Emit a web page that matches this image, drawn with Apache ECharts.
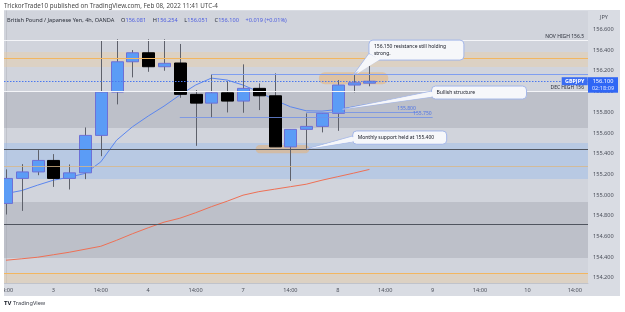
<!DOCTYPE html>
<html><head><meta charset="utf-8">
<script src="https://cdn.jsdelivr.net/npm/echarts@6/dist/echarts.min.js"></script>
<style>html,body{margin:0;padding:0;background:#fff}#c{width:625px;height:312px}</style>
</head><body><div id="c"></div>
<script>
// ---- data (GBPJPY 4h candles) ----
const opens  = [154.918,155.160,155.223,155.334,155.160,155.214,155.576,155.995,156.288,156.375,156.240,156.276,155.973,155.888,155.988,155.908,156.031,155.959,155.465,155.634,155.663,155.789,156.063,156.081];
const closes = [155.160,155.223,155.334,155.160,155.214,155.576,155.995,156.288,156.375,156.240,156.273,155.973,155.888,155.988,155.908,156.031,155.959,155.465,155.634,155.663,155.789,156.063,156.085,156.100];
const lows   = [154.811,154.846,155.191,155.078,155.053,155.153,155.375,155.876,156.137,156.191,156.201,155.940,155.475,155.750,155.798,155.795,155.821,155.465,155.136,155.434,155.605,155.620,155.992,156.051];
const highs  = [155.247,155.298,155.434,155.395,155.295,155.653,156.498,156.505,156.401,156.505,156.505,156.460,156.014,156.166,156.101,156.263,156.079,156.176,155.634,155.789,155.789,156.111,156.166,156.254];
const maFast = [155.014,155.043,155.095,155.143,155.172,155.208,155.320,155.530,155.659,155.763,155.859,155.966,156.063,156.130,156.111,156.063,155.998,155.918,155.853,155.814,155.811,155.827,155.853,155.879];
const maSlow = [154.369,154.383,154.398,154.422,154.446,154.475,154.504,154.562,154.625,154.683,154.737,154.775,154.828,154.887,154.940,154.998,155.032,155.056,155.080,155.104,155.143,155.177,155.211,155.247];
const timeTickIdx = [0,3,6,9,12,15,18,21,24,27,30,33,36];
const timeLabels  = ['14:00','3','14:00','4','14:00','7','14:00','8','14:00','9','14:00','10','14:00'];
const priceTicks  = [154.2,154.4,154.6,154.8,155.0,155.2,155.4,155.6,155.8,156.0,156.2,156.4,156.6];
const lastPrice = 156.100;
// zones: [top, bottom]
const orangeZones = [[156.382,156.237],[154.245,154.149]];
const grayZones   = [[156.000,155.648],[154.932,154.390]];
const blueZones   = [[155.502,155.154]];
// horizontal levels
const novHigh = 156.5, decHigh = 156.0;
const orangeLevels = [156.324,154.240];
const darkLevels = [155.441,154.719];
const thinOrangeLevels = [155.275];
const resistance = 156.167;
const struct1 = 155.800, struct2 = 155.750;

const X_MIN = -0.127, X_MAX = 36.835, Y_MIN = 154.1488, Y_MAX = 156.7789;
const FONT = "'Noto Sans','Liberation Sans',sans-serif";

const chart = echarts.init(document.getElementById('c'), null, {renderer:'canvas', width:625, height:312});

const ohlc = opens.map((o,i)=>[i,o,closes[i],lows[i],highs[i]]);

const zoneData = [];
orangeZones.forEach(z=>zoneData.push([{yAxis:z[0],itemStyle:{color:'rgba(236,205,160,0.42)'}},{yAxis:z[1]}]));
grayZones.forEach(z=>zoneData.push([{yAxis:z[0],itemStyle:{color:'rgba(150,153,163,0.33)'}},{yAxis:z[1]}]));
blueZones.forEach(z=>zoneData.push([{yAxis:z[0],itemStyle:{color:'rgba(150,185,235,0.42)'}},{yAxis:z[1]}]));

const lbl = (txt,color)=>({show:true,position:'insideEndTop',formatter:txt,color:color,fontSize:5,fontFamily:FONT,distance:[4,1]});
const lineData = [
  {yAxis:novHigh,lineStyle:{color:'#f4f5f8',width:1.2,type:'solid'},label:lbl('NOV HIGH 156.5','#2a2e39')},
  {yAxis:decHigh,lineStyle:{color:'#f4f5f8',width:1.2,type:'solid'},label:lbl('DEC HIGH 156','#2a2e39')},
  ...orangeLevels.map(v=>({yAxis:v,lineStyle:{color:'#f2b660',width:1,type:'solid'}})),
  ...darkLevels.map(v=>({yAxis:v,lineStyle:{color:'#50555f',width:1.2,type:'solid'}})),
  ...thinOrangeLevels.map(v=>({yAxis:v,lineStyle:{color:'#d8b888',width:0.8,type:'solid'}})),
  {yAxis:lastPrice,lineStyle:{color:'#4a78f0',width:1,type:[1.5,1.5]}},
  [{coord:[13,resistance],lineStyle:{color:'#7f9ef0',width:1,type:'solid'}},{coord:[X_MAX,resistance]}],
  [{coord:[19,struct1],lineStyle:{color:'#6f8fe8',width:0.8,type:'solid'},label:{show:true,position:'insideEndTop',formatter:'155.800',color:'#4f74e6',fontSize:5,fontFamily:FONT,distance:[1,1]}},{coord:[26.0,struct1]}],
  [{coord:[11,struct2],lineStyle:{color:'#6f8fe8',width:0.8,type:'solid'},label:{show:true,position:'insideEndTop',formatter:'155.750',color:'#4f74e6',fontSize:5,fontFamily:FONT,distance:[1,1]}},{coord:[27.0,struct2]}]
];

function renderCandle(params, api){
  const i=api.value(0), o=api.value(1), c=api.value(2), l=api.value(3), h=api.value(4);
  const pO=api.coord([i,o]), pC=api.coord([i,c]), pL=api.coord([i,l]), pH=api.coord([i,h]);
  const w=12, xc=Math.round(pO[0]);
  const up=c>=o;
  const top=Math.min(pO[1],pC[1]), bot=Math.max(pO[1],pC[1]);
  const cs=params.coordSys;
  return {type:'group', clipPath:{type:'rect',shape:{x:cs.x,y:cs.y,width:cs.width,height:cs.height}}, children:[
    {type:'line',shape:{x1:xc+0.5,y1:pH[1],x2:xc+0.5,y2:pL[1]},style:{stroke:'#5e616b',lineWidth:1}},
    {type:'rect',shape:{x:xc-w/2+0.5,y:top,width:w,height:Math.max(bot-top,1.5)},
      style:{fill:up?'#5b9cf6':'#000000',stroke:up?'#6d70d6':'#000000',lineWidth:1}}
  ]};
}

chart.setOption({
  animation:false,
  backgroundColor:'#ffffff',
  grid:{left:4,right:37,top:11,bottom:29,show:true,backgroundColor:'#d1d4dc',borderWidth:0,outerBoundsMode:'none',containLabel:false},
  xAxis:{type:'value',min:X_MIN,max:X_MAX,
    axisLine:{show:true,lineStyle:{color:'#c0c3cb'}},axisTick:{show:false},splitLine:{show:false},
    axisLabel:{customValues:timeTickIdx,formatter:v=>timeLabels[timeTickIdx.indexOf(Math.round(v))],color:'#4a4e59',fontSize:5.6,fontFamily:FONT,margin:4}},
  yAxis:{type:'value',position:'right',min:Y_MIN,max:Y_MAX,scale:true,
    axisLine:{show:true,lineStyle:{color:'#c0c3cb'}},axisTick:{show:false},splitLine:{show:false},
    axisLabel:{customValues:priceTicks,formatter:v=>v.toFixed(3),color:'#4a4e59',fontSize:5.6,fontFamily:FONT,margin:5}},
  series:[
    {name:'zones',type:'line',data:[],silent:true,
      markArea:{silent:true,z:1,data:zoneData}},
    {name:'levels',type:'line',data:[],silent:true,
      markLine:{silent:true,z:5,symbol:['none','none'],label:{show:false},data:lineData}},
    {name:'maSlow',type:'line',z:1.8,data:maSlow.map((v,i)=>[i,v]),showSymbol:false,symbol:'none',
      lineStyle:{color:'#ee7055',width:1},clip:true},
    {name:'maFast',type:'line',z:1.8,data:maFast.map((v,i)=>[i,v]),showSymbol:false,symbol:'none',
      lineStyle:{color:'#5b86ef',width:1},clip:true},
    {name:'candles',type:'custom',z:3,data:ohlc,encode:{x:0,y:[1,2,3,4]},renderItem:renderCandle,clip:true}
  ]
});

function px(x,y){return chart.convertToPixel({xAxisIndex:0,yAxisIndex:0},[x,y]);}

const g = [];
g.push({type:'rect',z:-1,silent:true,shape:{x:4,y:10,width:616,height:286},style:{fill:'#d9dce3'}});
g.push({type:'text',z:20,x:4,y:3,style:{text:'TrickorTrade10 published on TradingView.com, Feb 08, 2022 11:41 UTC-4',font:'6.3px '+FONT,fill:'#4a4a4a'}});
g.push({type:'text',z:20,x:7,y:14,style:{
  text:'{n|British Pound / Japanese Yen, 4h, OANDA}  {k|O}{v|156.081}  {k|H}{v|156.254}  {k|L}{v|156.051}  {k|C}{v|156.100}  {v|+0.019 (+0.01%)}',
  rich:{n:{fill:'#2a2e39',font:'5.6px '+FONT},k:{fill:'#2a2e39',font:'5.6px '+FONT},v:{fill:'#4b5ce0',font:'5.6px '+FONT}}}});
g.push({type:'text',z:20,x:604,y:17,style:{text:'JPY',font:'5.6px '+FONT,fill:'#4a4e59',align:'center',verticalAlign:'middle'}});
g.push({type:'text',z:20,x:4,y:300,style:{text:'TV',font:'bold 6px '+FONT,fill:'#131722'}});
g.push({type:'text',z:20,x:13,y:300,style:{text:'TradingView',font:'5.6px '+FONT,fill:'#3a3e49'}});
g.push({type:'rect',z:30,silent:true,shape:{x:0,y:0,width:4,height:312},style:{fill:'#ffffff'}});

const pills = [[19.8,24.2,156.186,156.070],[15.8,19.2,155.483,155.403]];
pills.forEach(p=>{
  const a=px(p[0],p[2]), b=px(p[1],p[3]);
  g.push({type:'rect',z:1.5,silent:true,shape:{x:a[0],y:a[1],width:b[0]-a[0],height:b[1]-a[1],r:(b[1]-a[1])/2},style:{fill:'rgba(235,175,105,0.5)'}});
});

function callout(tip, box, base, lines, ty){
  const t = px(tip[0],tip[1]);
  const bx=t[0]+box[0], by=t[1]+box[1];
  const fill='#f6f7fa', stroke='#a3b6e8';
  g.push({type:'rect',z:10,shape:{x:bx,y:by,width:box[2],height:box[3],r:4},style:{fill:fill,stroke:stroke,lineWidth:1}});
  g.push({type:'polygon',z:10,shape:{points:[[t[0]+base[0][0],t[1]+base[0][1]],[t[0]+base[1][0],t[1]+base[1][1]],[t[0],t[1]]]},style:{fill:fill,stroke:stroke,lineWidth:0.8}});
  g.push({type:'polygon',z:10,shape:{points:[[t[0]+base[0][0]+1.2,t[1]+base[0][1]+0.8],[t[0]+base[1][0]+1.2,t[1]+base[1][1]-0.6],[t[0]+3,t[1]-0.5]]},style:{fill:fill}});
  lines.forEach((ln,k)=>{
    g.push({type:'text',z:11,x:bx+5,y:by+ty+k*6.3,style:{text:ln,font:'5px '+FONT,fill:'#131722',verticalAlign:'middle'}});
  });
}
callout([22,156.166],[15.3,-34.3,95,20],[[15.3,-21],[25,-14.3]],['156.150 resistance still holding','strong.'],6.7);
callout([21.3,155.828],[89,-23.3,95,13],[[89,-18.3],[89,-12.3]],['Bullish structure'],6.5);
callout([19.03,155.445],[46,-18,94,13.3],[[46,-13],[46,-7]],['Monthly support held at 155.400'],6.6);

const pp = px(0,lastPrice);
g.push({type:'rect',z:20,shape:{x:561.7,y:pp[1]-4,width:26,height:8},style:{fill:'#3a6cf2'}});
g.push({type:'text',z:21,x:574.7,y:pp[1],style:{text:'GBPJPY',font:'bold 5.4px '+FONT,fill:'#ffffff',align:'center',verticalAlign:'middle'}});
g.push({type:'rect',z:20,shape:{x:588,y:pp[1]-4,width:30,height:15.5},style:{fill:'#2f66f5'}});
g.push({type:'text',z:21,x:603,y:pp[1],style:{text:'156.100',font:'5.6px '+FONT,fill:'#ffffff',align:'center',verticalAlign:'middle'}});
g.push({type:'text',z:21,x:603,y:pp[1]+7.3,style:{text:'02:18:09',font:'5.6px '+FONT,fill:'#dfe6ff',align:'center',verticalAlign:'middle'}});

chart.setOption({graphic:g});
</script></body></html>
